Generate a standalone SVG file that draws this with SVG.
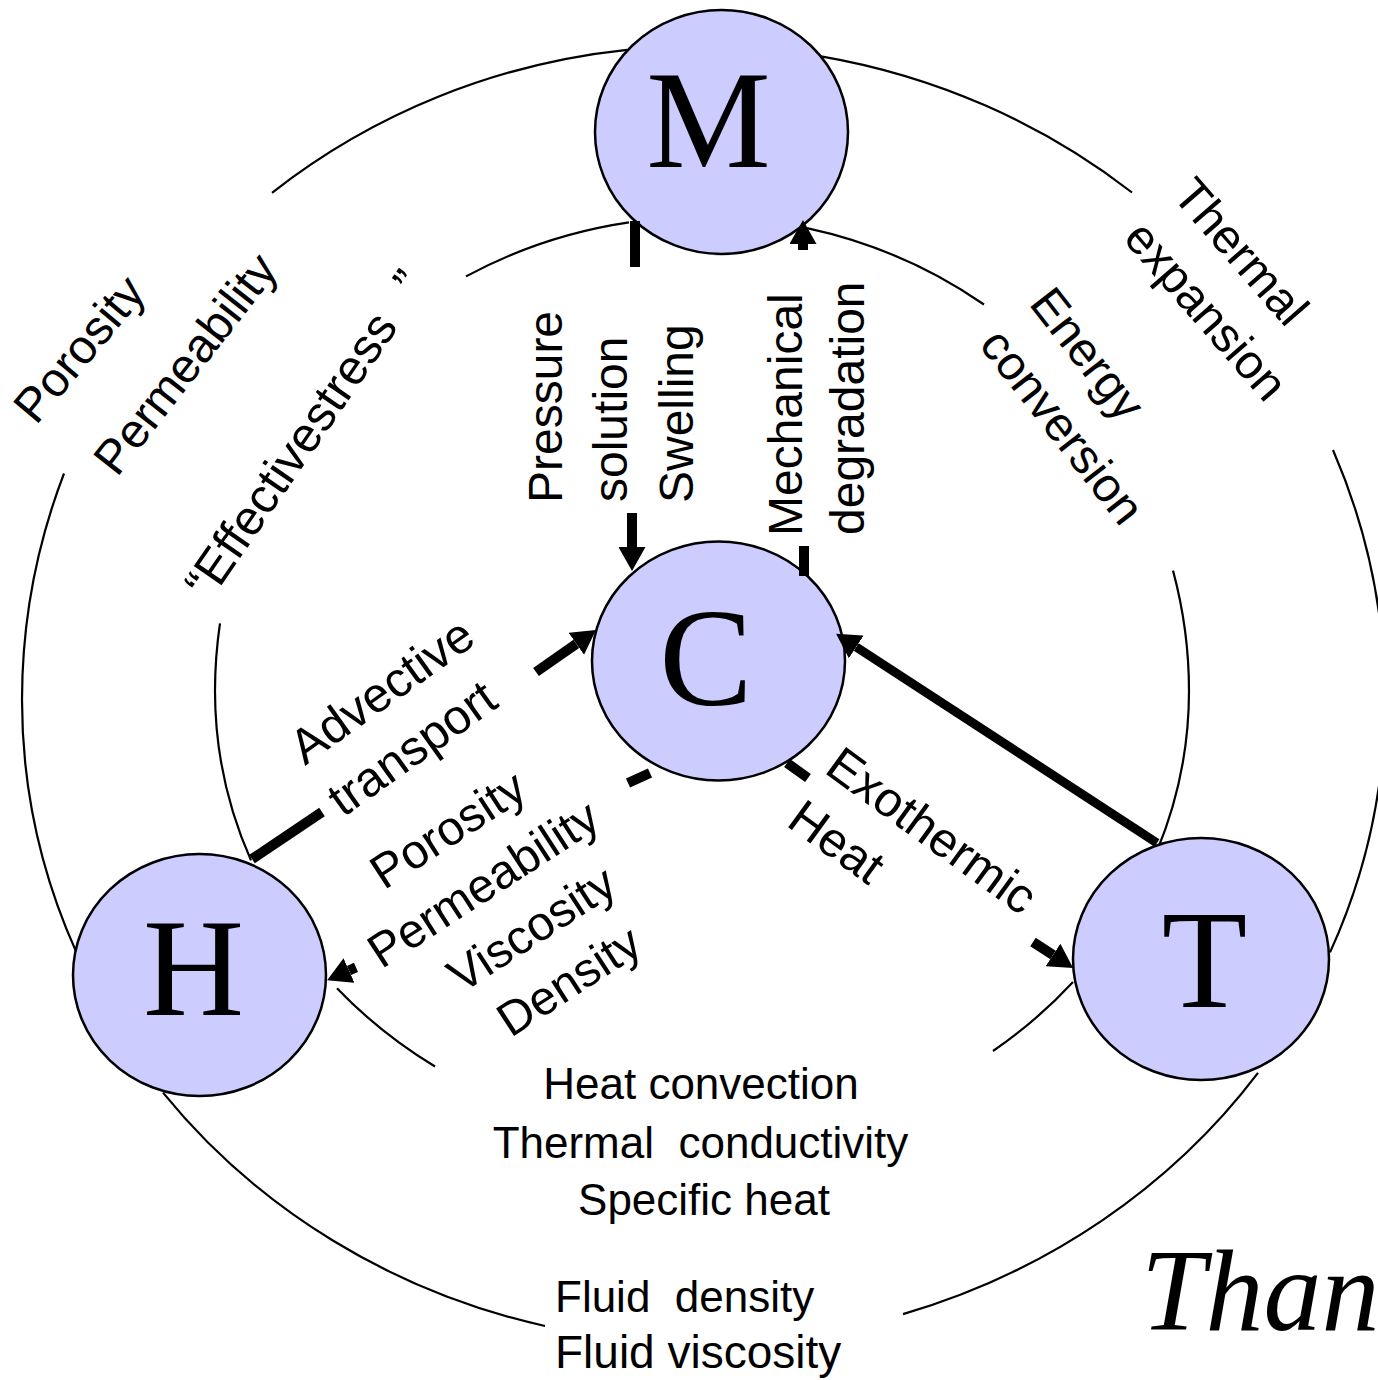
<svg xmlns="http://www.w3.org/2000/svg" width="1378" height="1380" viewBox="0 0 1378 1380">
  <style>
    .ring { fill: none; stroke: #000; stroke-width: 2.2; }
    .node ellipse { fill: #CCCCFF; stroke: #000; stroke-width: 2.5; }
    .letter { font-family: "Liberation Serif", "Times New Roman", serif; font-size: 140px; text-anchor: middle; fill: #000; }
    .lbl { font-family: "Liberation Sans", Arial, sans-serif; font-size: 48px; fill: #000; }
    .lbl-s { font-family: "Liberation Sans", Arial, sans-serif; font-size: 44px; fill: #000; }
    .link { stroke: #000; stroke-width: 10; fill: none; }
    .link-head { stroke: #000; stroke-width: 10; fill: none; marker-end: url(#ah); }
  </style>
  <defs>
    <marker id="ah" markerUnits="userSpaceOnUse" markerWidth="24" markerHeight="27" viewBox="0 0 24 27" refX="0" refY="13.5" orient="auto">
      <path d="M0,0 L24,13.5 L0,27 Z" fill="#000"/>
    </marker>
  </defs>
  <rect width="1378" height="1380" fill="#fff"/>

  <!-- outer and inner coupling rings, broken where labels sit -->
  <g id="rings">
    <path class="ring" d="M272,192.8 A678,654 0 0 1 627,49.8"/>
    <path class="ring" d="M821,56.3 A685,654 0 0 1 1132,192.5"/>
    <path class="ring" d="M1333,450 A685,654 0 0 1 1385,700 A685,643 0 0 1 1330,952.4"/>
    <path class="ring" d="M1258,1072.9 A685,643 0 0 1 903,1314.1"/>
    <path class="ring" d="M545,1326 A678,643 0 0 1 163,1092.6"/>
    <path class="ring" d="M76,951.4 A678,643 0 0 1 22,700 A678,654 0 0 1 64,473.5"/>

    <path class="ring" d="M466,276.4 A487,474 0 0 1 629,222.4"/>
    <path class="ring" d="M807,228.1 A487,474 0 0 1 984,304.5"/>
    <path class="ring" d="M1173,570.6 A487,474 0 0 1 1189,691 A487,449 0 0 1 1157,851"/>
    <path class="ring" d="M1073,981.9 A487,449 0 0 1 993,1051"/>
    <path class="ring" d="M435,1066.5 A487,449 0 0 1 337,988.2"/>
    <path class="ring" d="M251,860.4 A487,449 0 0 1 215,691 A487,474 0 0 1 220,623.3"/>
  </g>

  <g id="node-M" class="node">
    <ellipse cx="721.5" cy="132" rx="126.5" ry="122"/>
    <text class="letter" x="708.5" y="167">M</text>
  </g>
  <g id="node-C" class="node">
    <ellipse cx="718.5" cy="661" rx="126.5" ry="119.5"/>
    <text class="letter" x="706" y="705">C</text>
  </g>
  <g id="node-H" class="node">
    <ellipse cx="199.5" cy="975" rx="126.5" ry="121"/>
    <text class="letter" x="193.5" y="1015">H</text>
  </g>
  <g id="node-T" class="node">
    <ellipse cx="1201" cy="959" rx="128" ry="121"/>
    <text class="letter" x="1204.5" y="1007">T</text>
  </g>

  <g id="connectors">
    <!-- M to C -->
    <line class="link" x1="635" y1="221" x2="635" y2="267"/>
    <line class="link-head" x1="632" y1="513" x2="632" y2="547"/>
    <!-- C to M -->
    <line class="link" x1="804" y1="546" x2="804" y2="576"/>
    <line class="link-head" x1="803" y1="250" x2="803" y2="244"/>
    <!-- H to C -->
    <line class="link" x1="252" y1="859" x2="322" y2="812"/>
    <line class="link-head" x1="536" y1="672" x2="576.3" y2="643.8"/>
    <!-- C to H -->
    <line class="link" x1="628" y1="783" x2="650" y2="773"/>
    <line class="link-head" x1="356" y1="967.4" x2="349" y2="970.5"/>
    <!-- T to C -->
    <line class="link-head" x1="1157" y1="843" x2="856.2" y2="646.9" style="stroke-width:9"/>
    <!-- C to T -->
    <line class="link" x1="787" y1="763" x2="808" y2="778"/>
    <line class="link-head" x1="1033" y1="942" x2="1053" y2="955"/>
  </g>

  <g id="labels">
    <text class="lbl" transform="translate(36,426) rotate(-50)">Porosity</text>
    <text class="lbl" transform="translate(117,478) rotate(-52)">Permeability</text>
    <text class="lbl" transform="translate(210,602) rotate(-55.5)" style="font-size:49px">“Effectivestress<tspan dx="34">”</tspan></text>

    <text class="lbl" transform="translate(562,503) rotate(-90)">Pressure</text>
    <text class="lbl" transform="translate(627,502) rotate(-90)">solution</text>
    <text class="lbl" transform="translate(693,503) rotate(-90)">Swelling</text>

    <text class="lbl" transform="translate(802,536) rotate(-90)">Mechanical</text>
    <text class="lbl" transform="translate(864,535) rotate(-90)">degradation</text>

    <text class="lbl" transform="translate(1028,304) rotate(52)">Energy</text>
    <text class="lbl" transform="translate(978,345) rotate(52)">conversion</text>

    <text class="lbl" transform="translate(1171,196) rotate(49)">Thermal</text>
    <text class="lbl" transform="translate(1122,239) rotate(49)">expansion</text>

    <text class="lbl" transform="translate(305,766) rotate(-35.5)" style="font-size:49px">Advective</text>
    <text class="lbl" transform="translate(343,818) rotate(-35.5)" style="font-size:49px">transport</text>

    <g transform="translate(452.6,845.9) rotate(-33)" class="lbl" text-anchor="middle">
      <text x="5" y="0">Porosity</text>
      <text x="5" y="65">Permeability</text>
      <text x="21" y="129">Viscosity</text>
      <text x="24" y="193">Density</text>
    </g>

    <text class="lbl" transform="translate(823,772) rotate(36)" style="font-size:49px">Exothermic</text>
    <text class="lbl" transform="translate(785,825) rotate(36)" style="font-size:49px">Heat</text>

    <text class="lbl-s" x="701" y="1099" text-anchor="middle">Heat convection</text>
    <text class="lbl-s" x="700.5" y="1158" text-anchor="middle" xml:space="preserve">Thermal  conductivity</text>
    <text class="lbl-s" x="704" y="1215" text-anchor="middle">Specific heat</text>
    <text class="lbl-s" x="555" y="1312" xml:space="preserve">Fluid  density</text>
    <text class="lbl-s" x="555" y="1368" style="font-size:46px">Fluid viscosity</text>

    <text x="1141" y="1330" font-family="'Liberation Serif', 'Times New Roman', serif" font-style="italic" font-size="116">Than</text>
  </g>
</svg>
